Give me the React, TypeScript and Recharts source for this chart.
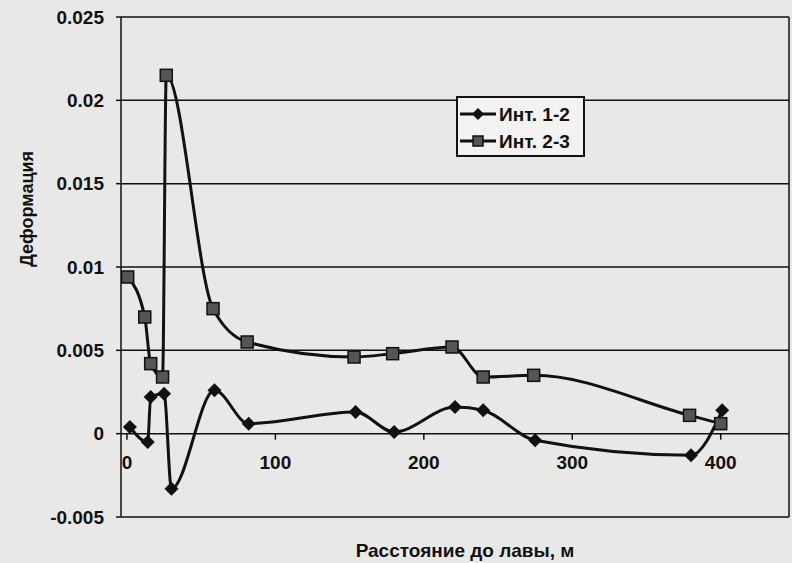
import React from "react";
import { LineChart, Line, XAxis, YAxis, CartesianGrid } from "recharts";

// Инт. 1-2 (ромбы)
const dist12 = [2, 14, 16, 25, 30, 59, 82, 154, 180, 221, 240, 275, 380, 401];
const def12 = [0.0004, -0.0005, 0.0022, 0.0024, -0.0033, 0.0026, 0.0006, 0.0013, 0.0001, 0.0016, 0.0014, -0.0004, -0.0013, 0.0014];

// Инт. 2-3 (квадраты)
const dist23 = [0.5, 12, 16, 24, 26.5, 58, 81, 153, 179, 219, 240, 274, 379, 400];
const def23 = [0.0094, 0.007, 0.0042, 0.0034, 0.0215, 0.0075, 0.0055, 0.0046, 0.0048, 0.0052, 0.0034, 0.0035, 0.0011, 0.0006];

const xTicks = [0, 100, 200, 300, 400];
const yTicks = [-0.005, 0, 0.005, 0.01, 0.015, 0.02, 0.025];

const W = 792;
const H = 563;
const TOP = 17;
const BOTTOM = 517;
const LEFT = 121;
const RIGHT = 789;
const Y_MIN = -0.005;
const Y_MAX = 0.025;
const ZERO_Y = TOP + ((Y_MAX - 0) / (Y_MAX - Y_MIN)) * (BOTTOM - TOP);
const FONT = "'Liberation Sans', Arial, sans-serif";
const BG = "#e8e8e6";
const INK = "#111";

const s12 = dist12.map((x, i) => ({ x, y: def12[i] }));
const s23 = dist23.map((x, i) => ({ x, y: def23[i] }));

const Diamond = ({ cx, cy, r = 7 }: any) => (
  <path d={`M${cx},${cy - r}L${cx + r},${cy}L${cx},${cy + r}L${cx - r},${cy}Z`} fill={INK} />
);

const Square = ({ cx, cy, r = 6 }: any) => (
  <rect x={cx - r} y={cy - r} width={r * 2} height={r * 2} fill="#555" stroke={INK} strokeWidth={1.5} />
);

const XTick = ({ x, payload }: any) => (
  <g>
    <line x1={x} x2={x} y1={ZERO_Y} y2={ZERO_Y + 6} stroke={INK} strokeWidth={1.5} />
    <text x={x} y={ZERO_Y + 29} textAnchor="middle" dominantBaseline="central" fontSize={19} fontWeight="bold" fill={INK} fontFamily={FONT}>
      {payload.value}
    </text>
  </g>
);

const LegendBox = () => (
  <svg width={130} height={62} style={{ position: "absolute", left: 456, top: 96 }}>
    <rect x={1} y={1} width={127} height={59} fill="#f2f2f0" stroke={INK} strokeWidth={2} />
    <line x1={4} x2={40} y1={18} y2={18} stroke={INK} strokeWidth={3} />
    <Diamond cx={22} cy={18} r={6} />
    <text x={43} y={18} dominantBaseline="central" fontSize={19} fontWeight="bold" fill={INK} fontFamily={FONT}>Инт. 1-2</text>
    <line x1={4} x2={40} y1={45} y2={45} stroke={INK} strokeWidth={3} />
    <Square cx={22} cy={45} r={5} />
    <text x={43} y={45} dominantBaseline="central" fontSize={19} fontWeight="bold" fill={INK} fontFamily={FONT}>Инт. 2-3</text>
  </svg>
);

export default function App() {
  return (
    <div style={{ position: "fixed", left: 0, top: 0, width: W, height: H, background: BG }}>
      <LineChart width={W} height={H} margin={{ top: TOP, right: W - RIGHT, bottom: 0, left: 8 }}>
        <CartesianGrid vertical={false} stroke={INK} strokeWidth={1.5} />
        <XAxis
          type="number"
          dataKey="x"
          domain={[-4, 446]}
          ticks={xTicks}
          allowDataOverflow
          axisLine={false}
          tickLine={false}
          tick={<XTick />}
          height={H - BOTTOM}
          label={{ value: "Расстояние до лавы, м", position: "insideBottom", offset: 6, dx: 10, fontSize: 19, fontWeight: "bold", fill: INK, fontFamily: FONT }}
        />
        <YAxis
          type="number"
          domain={[Y_MIN, Y_MAX]}
          ticks={yTicks}
          width={LEFT - 8}
          axisLine={{ stroke: INK, strokeWidth: 1.5 }}
          tickLine={{ stroke: INK, strokeWidth: 1.5 }}
          tickSize={5}
          tickMargin={12}
          tick={{ fontSize: 19, fontWeight: "bold", fill: INK, fontFamily: FONT }}
          tickFormatter={(v: number) => String(v)}
          label={{ value: "Деформация", angle: -90, position: "insideLeft", offset: 19, fontSize: 18, fontWeight: "bold", fill: INK, fontFamily: FONT }}
        />
        <Line
          data={s12}
          dataKey="y"
          name="Инт. 1-2"
          type="monotone"
          stroke={INK}
          strokeWidth={3}
          dot={(p: any) => <Diamond key={`d${p.index}`} cx={p.cx} cy={p.cy} />}
          isAnimationActive={false}
        />
        <Line
          data={s23}
          dataKey="y"
          name="Инт. 2-3"
          type="monotone"
          stroke={INK}
          strokeWidth={3}
          dot={(p: any) => <Square key={`s${p.index}`} cx={p.cx} cy={p.cy} />}
          isAnimationActive={false}
        />
      </LineChart>
      <svg width={W} height={H} style={{ position: "absolute", left: 0, top: 0, pointerEvents: "none" }}>
        <line x1={RIGHT} x2={RIGHT} y1={TOP} y2={BOTTOM} stroke={INK} strokeWidth={1.5} />
      </svg>
      <LegendBox />
    </div>
  );
}
